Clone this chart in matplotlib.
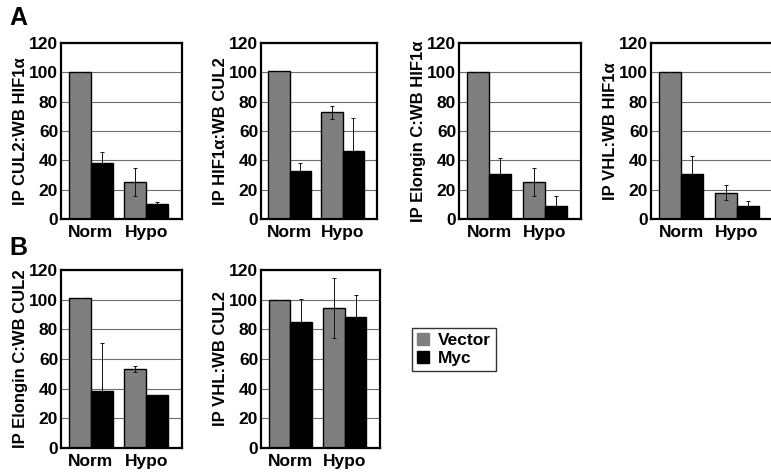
import matplotlib
matplotlib.use("Agg")
import matplotlib.pyplot as plt
import numpy as np

plt.rcParams['font.family'] = ['Liberation Sans', 'DejaVu Sans']
plt.rcParams['font.weight'] = 'bold'

groups = ["Norm", "Hypo"]
series = ["Vector", "Myc"]
colors = ["#7f7f7f", "#000000"]

# panel A
a_labels = ["IP CUL2:WB HIF1\u03b1", "IP HIF1\u03b1:WB CUL2",
            "IP Elongin C:WB HIF1\u03b1", "IP VHL:WB HIF1\u03b1"]
a_vector = [[100, 25], [101, 72.7], [100, 25], [100.5, 18]]
a_vector_err = [[0, 9.5], [0, 4.5], [0, 9.6], [0, 5]]
a_myc = [[38, 10.5], [33, 46.6], [30.5, 9], [30.8, 8.6]]
a_myc_err = [[8, 1], [5.5, 22], [11, 7], [12, 3.5]]

# panel B
b_labels = ["IP Elongin C:WB CUL2", "IP VHL:WB CUL2"]
b_vector = [[101, 53.4], [100, 94.4]]
b_vector_err = [[0, 2], [0, 20.5]]
b_myc = [[38.5, 35.4], [84.7, 88.3]]
b_myc_err = [[32, 0], [16, 15]]

W, H = 771, 476
fig = plt.figure(figsize=(W / 100, H / 100), dpi=100)


def make_ax(x0, x1, y0, y1):
    return fig.add_axes([x0 / W, (H - y1) / H, (x1 - x0) / W, (y1 - y0) / H])


def draw(ax, vec, vec_err, myc, myc_err, ylabel):
    x = np.arange(len(groups))
    w = 0.4
    # black bars hide the lower half of their error bars
    myc_yerr = [np.zeros(len(myc)), myc_err]
    for vals, errs, col, off in [(vec, vec_err, colors[0], -w / 2),
                                 (myc, myc_yerr, colors[1], w / 2)]:
        ax.bar(x + off, vals, w, color=col, edgecolor="black", linewidth=1.0, zorder=2)
        ax.errorbar(x + off, vals, yerr=errs, fmt="none", ecolor="#111111",
                    elinewidth=0.7, capsize=1.5, capthick=0.7, zorder=3)
    ax.set_xlim(-0.54, 1.65)
    ax.set_ylim(0, 120)
    ax.set_yticks(range(0, 121, 20))
    ax.set_xticks(x)
    ax.set_xticklabels(groups, fontsize=12.5, fontweight="bold")
    ax.tick_params(axis="y", length=0, pad=2, labelsize=12.5)
    ax.tick_params(axis="x", length=0, pad=4)
    for lab in ax.get_yticklabels():
        lab.set_fontweight("bold")
    ax.yaxis.grid(True, color="#6e6e6e", linewidth=0.8, zorder=0)
    ax.set_axisbelow(True)
    for sp in ax.spines.values():
        sp.set_linewidth(1.6)
    ax.set_ylabel(ylabel, fontsize=12, fontweight="bold", labelpad=1)


a_pos = [(61, 182), (261, 377), (459, 581), (651, 773)]
for i, (x0, x1) in enumerate(a_pos):
    ax = make_ax(x0, x1, 43, 219)
    draw(ax, a_vector[i], a_vector_err[i], a_myc[i], a_myc_err[i], a_labels[i])

b_pos = [(61, 182), (261, 380)]
for i, (x0, x1) in enumerate(b_pos):
    ax = make_ax(x0, x1, 270, 448)
    draw(ax, b_vector[i], b_vector_err[i], b_myc[i], b_myc_err[i], b_labels[i])

fig.text(9 / W, 1 - 25 / H, "A", fontsize=18, fontweight="bold")
fig.text(9 / W, 1 - 255 / H, "B", fontsize=18, fontweight="bold")

# legend
handles = [plt.Rectangle((0, 0), 1, 1, color=c) for c in colors]
fig.legend(handles, series, loc="upper left", bbox_to_anchor=(412 / W, 1 - 328 / H),
           frameon=True, fancybox=False, edgecolor="black",
           prop={"weight": "bold", "size": 12.5}, handlelength=0.7, handleheight=0.7,
           handletextpad=0.5, labelspacing=0.15, borderpad=0.3, borderaxespad=0)

fig.savefig("out.png", dpi=100)
